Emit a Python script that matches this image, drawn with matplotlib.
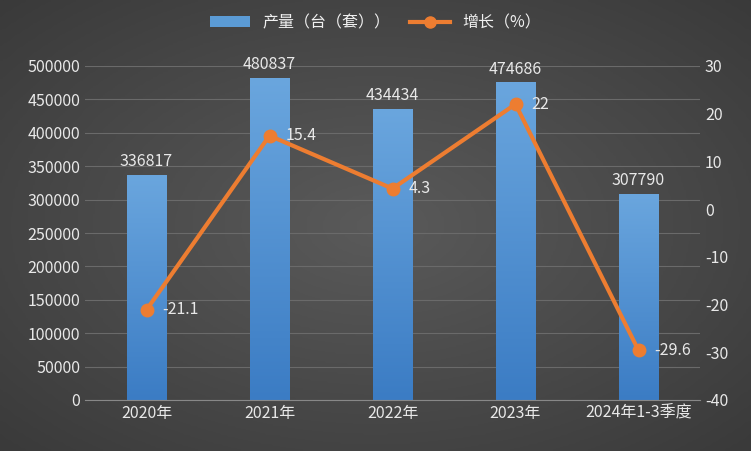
import matplotlib
matplotlib.use("Agg")
import matplotlib.pyplot as plt
import numpy as np
from matplotlib.lines import Line2D
from matplotlib.patches import Patch

plt.rcParams['font.family'] = ['Noto Sans CJK SC', 'DejaVu Sans']
plt.rcParams['axes.unicode_minus'] = False

categories = ["2020年", "2021年", "2022年", "2023年", "2024年1-3季度"]
output = [336817, 480837, 434434, 474686, 307790]
growth = [-21.1, 15.4, 4.3, 22, -29.6]

fig = plt.figure(figsize=(7.51, 4.51), dpi=100)
bg = fig.add_axes([0, 0, 1, 1])
yy, xx = np.mgrid[0:1:200j, 0:1:300j]
r = np.sqrt((xx - 0.5) ** 2 + (yy - 0.5) ** 2)
bg.imshow(r, cmap=matplotlib.colors.LinearSegmentedColormap.from_list("bg", ["#5a5a5a", "#3a3a3a"]),
          extent=[0, 1, 0, 1], aspect='auto')
bg.axis('off')

ax = fig.add_axes([85/751, 51/451, 615/751, 334/451])
ax.patch.set_alpha(0)
x = np.arange(len(categories))
w = 0.32
cmap = matplotlib.colors.LinearSegmentedColormap.from_list("b", ["#3b7cc4", "#6aa6de"])
grad = np.linspace(0, 1, 256).reshape(-1, 1)
for xi, v in zip(x, output):
    ax.imshow(grad, cmap=cmap, origin='lower', extent=[xi - w/2, xi + w/2, 0, v], aspect='auto', zorder=2)
    ax.text(xi, v + 8000, f"{v}", ha='center', va='bottom', color='#e8e8e8', fontsize=11.5)
ax.set_xlim(-0.5, len(categories) - 0.5)
ax.set_ylim(0, 500000)
ax.set_yticks(np.arange(0, 500001, 50000))
ax.set_xticks(x)
ax.set_xticklabels(categories)
ax.grid(axis='y', color='#6a6a6a', lw=0.8, zorder=0)
ax.set_axisbelow(True)
for s in ax.spines.values():
    s.set_visible(False)
ax.spines['bottom'].set_visible(True)
ax.spines['bottom'].set_color('#888888')
ax.tick_params(colors='#e8e8e8', labelsize=11.5, length=0)

ax2 = ax.twinx()
ax2.set_ylim(-40, 30)
ax2.set_yticks(np.arange(-40, 31, 10))
ax2.plot(x, growth, color='#ed7d31', lw=3, marker='o', ms=9, zorder=5)
for xi, g in zip(x, growth):
    ax2.text(xi + 0.13, g, f"{g:g}", ha='left', va='center', color='#e8e8e8', fontsize=11.5)
for s in ax2.spines.values():
    s.set_visible(False)
ax2.tick_params(colors='#e8e8e8', labelsize=11.5, length=0)

handles = [Patch(facecolor='#5b9bd5', label='产量（台（套））'),
           Line2D([0], [0], color='#ed7d31', lw=3, marker='o', ms=8, label='增长（%）')]
fig.legend(handles=handles, loc='upper center', bbox_to_anchor=(0.5, 1.0), ncol=2, frameon=False,
           labelcolor='#f0f0f0', fontsize=11.5, handlelength=2.5, columnspacing=1.2)
fig.savefig("out.png", dpi=100)
